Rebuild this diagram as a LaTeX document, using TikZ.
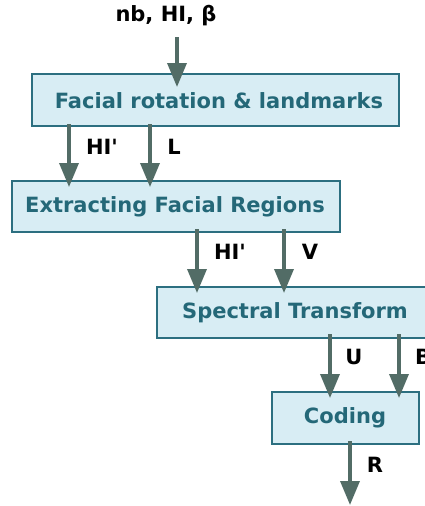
\documentclass[tikz,border=0pt]{standalone}
\usepackage{fontspec}
\setmainfont{DejaVu Sans}
\usetikzlibrary{arrows.meta}
\definecolor{boxfill}{HTML}{D8EDF4}
\definecolor{boxline}{HTML}{2C6F80}
\definecolor{boxtext}{HTML}{246878}
\definecolor{arr}{HTML}{526C66}
\tikzset{
  procbox/.style={draw=boxline, line width=1.2pt, fill=boxfill, text=boxtext, font=\fontsize{21}{25}\selectfont\bfseries, inner sep=0pt},
  flow/.style={draw=arr, line width=3.5pt, -{Triangle[length=24pt,width=19pt]}},
  lbl/.style={font=\fontsize{21}{25}\selectfont\bfseries, text=black, inner sep=0pt}
}
\begin{document}
\begin{tikzpicture}[x=1pt,y=-1pt]
\useasboundingbox (0,0) rectangle (425,506);
\path[procbox] (32,74) rectangle (399,126);
\node[procbox, draw=none, fill=none] (b1) at (219,101) {Facial rotation \& landmarks};
\path[procbox] (12,181) rectangle (340,232);
\node[procbox, draw=none, fill=none] (b2) at (175,207) {Extracting Facial Regions};
\path[procbox] (157,287) rectangle (433,338);
\node[procbox, draw=none, fill=none] (b3) at (295,313) {Spectral Transform};
\path[procbox] (272,392) rectangle (419,444);
\node[procbox, draw=none, fill=none] (b4) at (345,418) {Coding};
\node[lbl] (in) at (166,16) {nb, HI, β};
\coordinate (a0s) at (177,37); \coordinate (a0e) at (177,87);
\draw[flow] (a0s) -- (a0e);
\coordinate (a1s) at (69,124); \coordinate (a1e) at (69,187);
\coordinate (a2s) at (150,124); \coordinate (a2e) at (150,187);
\draw[flow] (a1s) -- (a1e);
\draw[flow] (a2s) -- (a2e);
\node[lbl] (l1) at (102,147) {HI\textquotesingle};
\node[lbl] (l2) at (174,147) {L};
\coordinate (a3s) at (197,229); \coordinate (a3e) at (197,293);
\coordinate (a4s) at (284,229); \coordinate (a4e) at (284,293);
\draw[flow] (a3s) -- (a3e);
\draw[flow] (a4s) -- (a4e);
\node[lbl] (l3) at (230,252) {HI\textquotesingle};
\node[lbl] (l4) at (310,252) {V};
\coordinate (a5s) at (330,334); \coordinate (a5e) at (330,398);
\coordinate (a6s) at (399,334); \coordinate (a6e) at (399,398);
\draw[flow] (a5s) -- (a5e);
\draw[flow] (a6s) -- (a6e);
\node[lbl] (l5) at (354,357) {U};
\node[lbl, anchor=west] (l6) at (415,357) {B};
\coordinate (a7s) at (350,441); \coordinate (a7e) at (350,505);
\draw[flow] (a7s) -- (a7e);
\node[lbl] (l7) at (375,465) {R};
\end{tikzpicture}
\end{document}
